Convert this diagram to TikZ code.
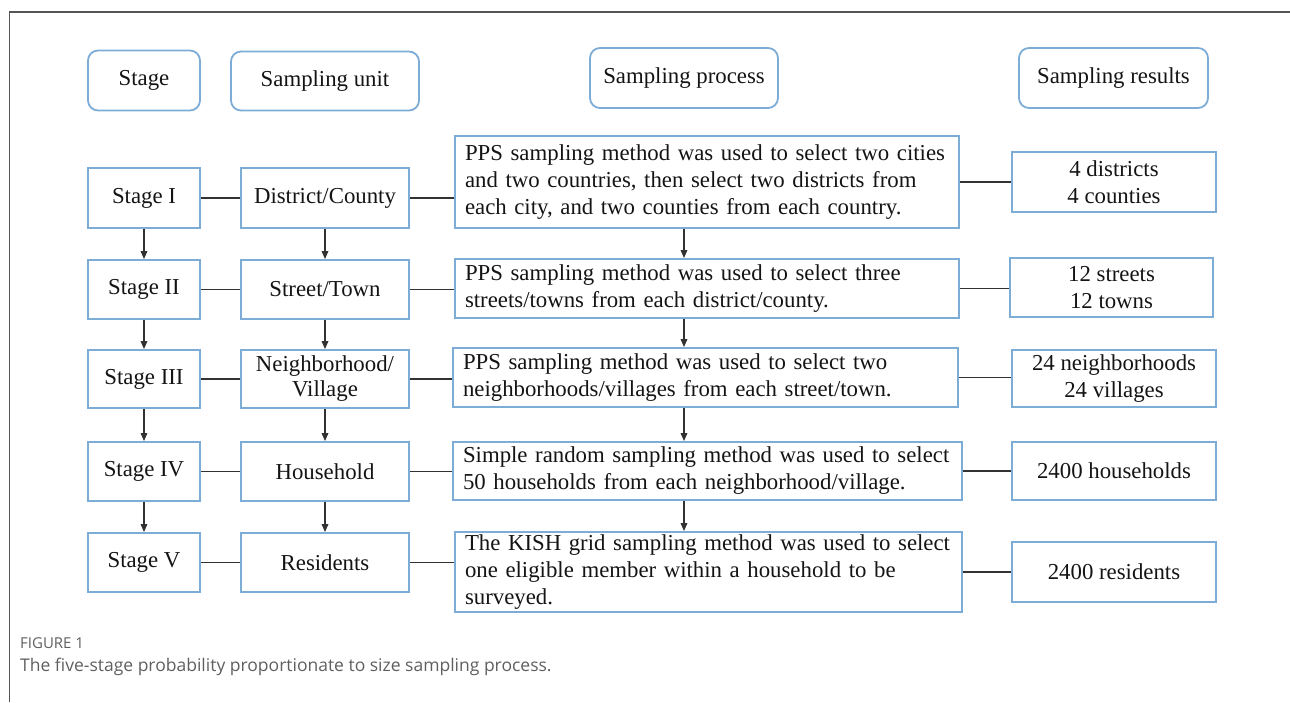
\documentclass[tikz,border=0pt]{standalone}
\usepackage{fontspec}
\setmainfont{Liberation Serif}
\newfontfamily\capfont{Open Sans}
\usetikzlibrary{arrows.meta}
\definecolor{boxblue}{RGB}{125,172,215}
\definecolor{txt}{RGB}{20,20,20}
\definecolor{lncol}{RGB}{50,50,50}
\definecolor{framecol}{RGB}{85,85,85}
\definecolor{capgray}{RGB}{95,95,95}
\begin{document}
\begin{tikzpicture}[x=1pt,y=-1pt,
  font=\fontsize{22.8}{27}\selectfont,
  bx/.style={draw=boxblue,line width=1.8pt,inner sep=0pt,text=txt,align=center},
  hdr/.style={bx,rounded corners=10pt},
  proc/.style={draw=boxblue,line width=1.8pt,inner xsep=10pt,inner ysep=0pt,text=txt,align=left},
  ln/.style={draw=lncol,line width=1.6pt},
  ar/.style={ln,-{Triangle[length=8pt,width=6.5pt]}}]
\useasboundingbox (0,0) rectangle (1290,702);
% frame
\draw[framecol,line width=1.5pt] (9.5,702) -- (9.5,12) -- (1290,12);
% headers
\node[hdr,minimum width=112pt,minimum height=60pt] (hs) at (144,80.5) {Stage};
\node[hdr,minimum width=188pt,minimum height=59pt] (hu) at (325,81) {Sampling unit};
\node[hdr,minimum width=188pt,minimum height=60pt] (hp) at (684,78) {Sampling process};
\node[hdr,minimum width=189pt,minimum height=60pt] (hr) at (1113.5,78) {Sampling results};
% stage column
\node[bx,minimum width=112pt,minimum height=60pt] (s1) at (144,198) {Stage I};
\node[bx,minimum width=112pt,minimum height=59pt] (s2) at (144,289.5) {Stage II};
\node[bx,minimum width=112pt,minimum height=58pt] (s3) at (144,379) {Stage III};
\node[bx,minimum width=112pt,minimum height=59pt] (s4) at (144,471.5) {Stage IV};
\node[bx,minimum width=112pt,minimum height=59pt] (s5) at (144,562.5) {Stage V};
% unit column
\node[bx,minimum width=168pt,minimum height=60pt] (u1) at (325,198) {District/County};
\node[bx,minimum width=168pt,minimum height=59pt] (u2) at (325,289.5) {Street/Town};
\node[bx,minimum width=168pt,minimum height=58pt] (u3) at (325,379) {Neighborhood/\\[-2pt]Village};
\node[bx,minimum width=168pt,minimum height=59pt] (u4) at (325,471.5) {Household};
\node[bx,minimum width=168pt,minimum height=59pt] (u5) at (325,562.5) {Residents};
% process column
\node[proc,text width=484pt,minimum height=92pt] (p1) at (707,182) {PPS sampling method was used to select two cities\\and two countries, then select two districts from\\each city, and two counties from each country.};
\node[proc,text width=484pt,minimum height=59pt] (p2) at (707,288.5) {PPS sampling method was used to select three\\streets/towns from each district/county.};
\node[proc,text width=485pt,minimum height=59pt] (p3) at (705.5,377.5) {PPS sampling method was used to select two\\neighborhoods/villages from each street/town.};
\node[proc,text width=489pt,minimum height=58pt] (p4) at (707.5,471) {Simple random sampling method was used to select\\50 households from each neighborhood/village.};
\node[proc,text width=487pt,minimum height=80pt] (p5) at (708.5,572) {The KISH grid sampling method was used to select\\one eligible member within a household to be\\surveyed.};
% results column
\node[bx,minimum width=204pt,minimum height=60pt] (r1) at (1114,182) {4 districts\\4 counties};
\node[bx,minimum width=203pt,minimum height=59pt] (r2) at (1111.5,287.5) {12 streets\\12 towns};
\node[bx,minimum width=204pt,minimum height=57pt] (r3) at (1114,378.5) {24 neighborhoods\\24 villages};
\node[bx,minimum width=204pt,minimum height=58pt] (r4) at (1114,471) {2400 households};
\node[bx,minimum width=204pt,minimum height=60pt] (r5) at (1114,572) {2400 residents};
% vertical arrows
\coordinate (pc) at (684,0);
\foreach \a/\b in {1/2,2/3,3/4,4/5}{
  \draw[ar] (s\a.south) -- (s\b.north);
  \draw[ar] (u\a.south) -- (u\b.north);
  \draw[ar] (p\a.south -| pc) -- (p\b.north -| pc);
}
% horizontal connectors
\foreach \i in {1,...,5}{
  \draw[ln] (s\i.east) -- (u\i.west);
  \draw[ln] (u\i.east) -- (u\i.east -| p\i.west);
  \draw[ln] (p\i.east) -- (p\i.east -| r\i.west);
}
% caption
\node[anchor=base west,inner sep=0pt,text=capgray,font=\capfont\fontsize{15}{17}\selectfont] (fig) at (20,648) {FIGURE 1};
\node[anchor=base west,inner sep=0pt,text=capgray,font=\capfont\fontsize{17.5}{20}\selectfont] (cap) at (20,671) {The five-stage probability proportionate to size sampling process.};
\end{tikzpicture}
\end{document}
